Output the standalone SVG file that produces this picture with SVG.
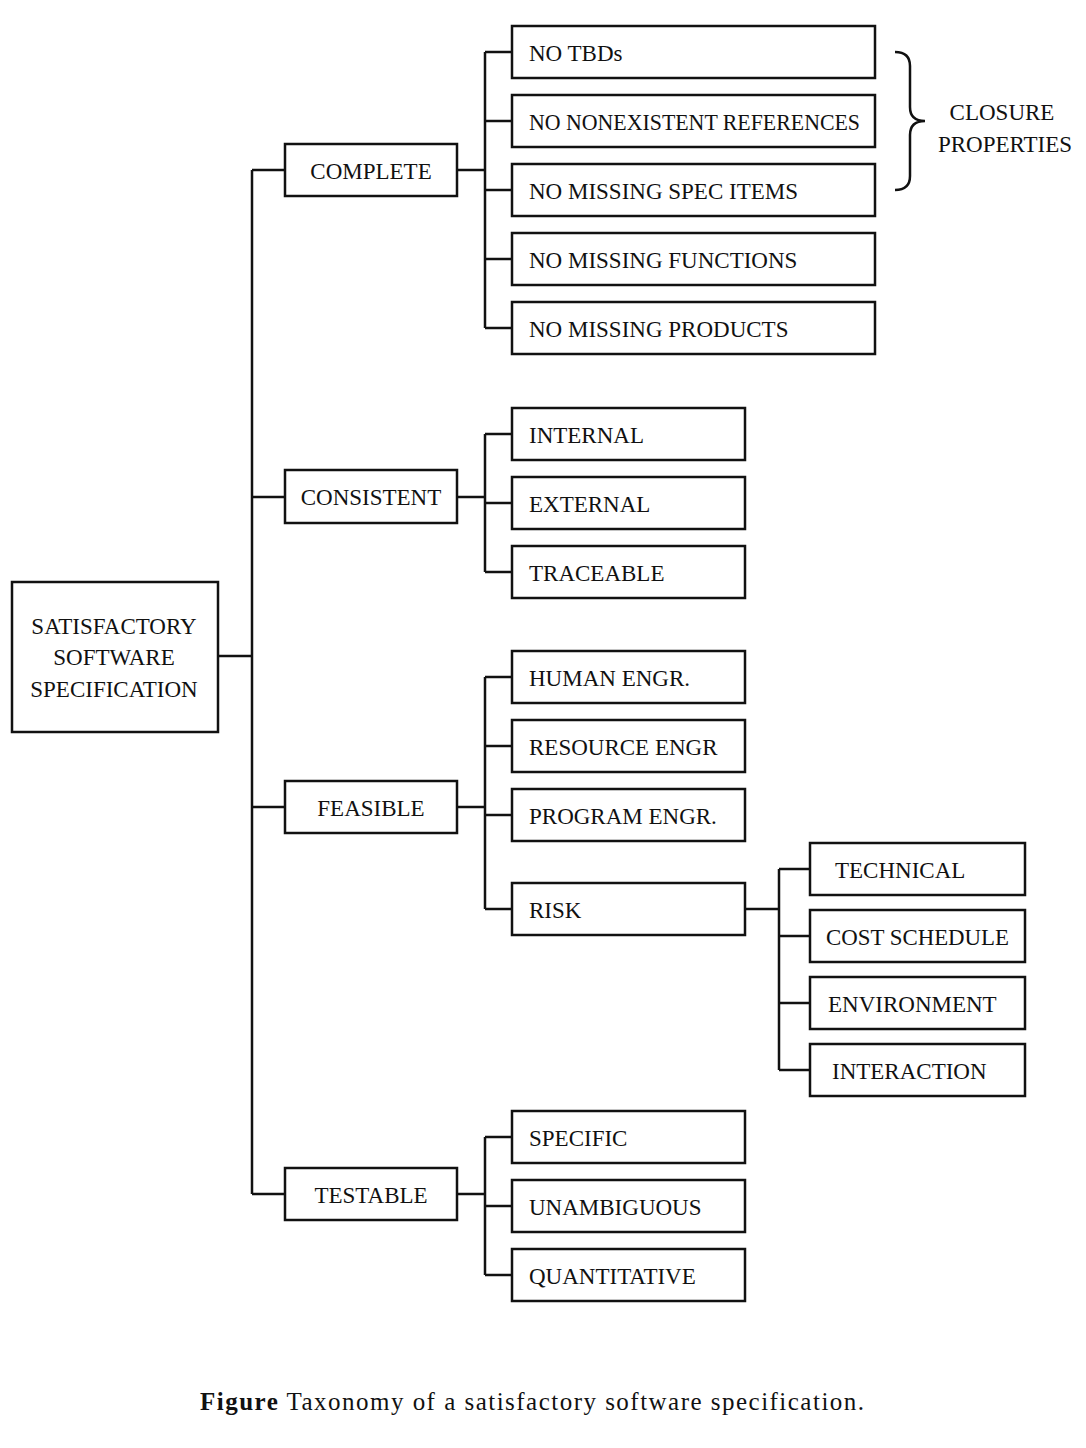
<svg xmlns="http://www.w3.org/2000/svg" width="1086" height="1448" viewBox="0 0 1086 1448">
<style>
rect{fill:#fff;stroke:#111;stroke-width:2.5}
text{font-family:"Liberation Serif",serif;font-size:23px;fill:#111}
.c{text-anchor:middle}
#connectors path{fill:none;stroke:#111;stroke-width:2.5}
</style>
<rect x="0" y="0" width="1086" height="1448" style="stroke:none"/>
<g id="connectors">
<path d="M218 656H252M252 170V1194M252 170H285M252 497H285M252 807H285M252 1194H285"/>
<path d="M457 170H485M485 52V328M485 52H512M485 121H512M485 190H512M485 259H512M485 328H512"/>
<path d="M457 497H485M485 434V572M485 434H512M485 503H512M485 572H512"/>
<path d="M457 807H485M485 677V909M485 677H512M485 746H512M485 815H512M485 909H512"/>
<path d="M745 909H779M779 869V1070M779 869H810M779 936H810M779 1003H810M779 1070H810"/>
<path d="M457 1194H485M485 1137V1275M485 1137H512M485 1206H512M485 1275H512"/>
<path d="M895 52Q910 52 910 66V107Q910 121 925 121Q910 121 910 135V176Q910 190 895 190"/>
</g>
<g id="root"><rect x="12" y="582" width="206" height="150"/><text class="c" x="114" y="634">SATISFACTORY</text><text class="c" x="114" y="665">SOFTWARE</text><text class="c" x="114" y="697">SPECIFICATION</text></g>
<g id="complete"><rect x="285" y="144" width="172" height="52"/><text class="c" x="371" y="179">COMPLETE</text></g>
<g id="consistent"><rect x="285" y="470" width="172" height="53"/><text class="c" x="371" y="505">CONSISTENT</text></g>
<g id="feasible"><rect x="285" y="781" width="172" height="52"/><text class="c" x="371" y="816">FEASIBLE</text></g>
<g id="testable"><rect x="285" y="1168" width="172" height="52"/><text class="c" x="371" y="1203">TESTABLE</text></g>
<g id="c1"><rect x="512" y="26" width="363" height="52"/><text x="529" y="61">NO TBDs</text></g>
<g id="c2"><rect x="512" y="95" width="363" height="52"/><text x="529" y="130" textLength="331" lengthAdjust="spacingAndGlyphs">NO NONEXISTENT REFERENCES</text></g>
<g id="c3"><rect x="512" y="164" width="363" height="52"/><text x="529" y="199">NO MISSING SPEC ITEMS</text></g>
<g id="c4"><rect x="512" y="233" width="363" height="52"/><text x="529" y="268">NO MISSING FUNCTIONS</text></g>
<g id="c5"><rect x="512" y="302" width="363" height="52"/><text x="529" y="337">NO MISSING PRODUCTS</text></g>
<g id="closure"><text class="c" x="1002" y="120">CLOSURE</text><text class="c" x="1005" y="152">PROPERTIES</text></g>
<g id="s1"><rect x="512" y="408" width="233" height="52"/><text x="529" y="443">INTERNAL</text></g>
<g id="s2"><rect x="512" y="477" width="233" height="52"/><text x="529" y="512">EXTERNAL</text></g>
<g id="s3"><rect x="512" y="546" width="233" height="52"/><text x="529" y="581">TRACEABLE</text></g>
<g id="f1"><rect x="512" y="651" width="233" height="52"/><text x="529" y="686">HUMAN ENGR.</text></g>
<g id="f2"><rect x="512" y="720" width="233" height="52"/><text x="529" y="755">RESOURCE ENGR</text></g>
<g id="f3"><rect x="512" y="789" width="233" height="52"/><text x="529" y="824">PROGRAM ENGR.</text></g>
<g id="f4"><rect x="512" y="883" width="233" height="52"/><text x="529" y="918">RISK</text></g>
<g id="r1"><rect x="810" y="843" width="215" height="52"/><text x="835" y="878">TECHNICAL</text></g>
<g id="r2"><rect x="810" y="910" width="215" height="52"/><text x="826" y="945" textLength="183" lengthAdjust="spacingAndGlyphs">COST SCHEDULE</text></g>
<g id="r3"><rect x="810" y="977" width="215" height="52"/><text x="828" y="1012">ENVIRONMENT</text></g>
<g id="r4"><rect x="810" y="1044" width="215" height="52"/><text x="832" y="1079">INTERACTION</text></g>
<g id="t1"><rect x="512" y="1111" width="233" height="52"/><text x="529" y="1146">SPECIFIC</text></g>
<g id="t2"><rect x="512" y="1180" width="233" height="52"/><text x="529" y="1215">UNAMBIGUOUS</text></g>
<g id="t3"><rect x="512" y="1249" width="233" height="52"/><text x="529" y="1284">QUANTITATIVE</text></g>
<text x="200" y="1410" style="font-size:25px" textLength="664"><tspan font-weight="bold">Figure</tspan> Taxonomy of a satisfactory software specification.</text>
</svg>
